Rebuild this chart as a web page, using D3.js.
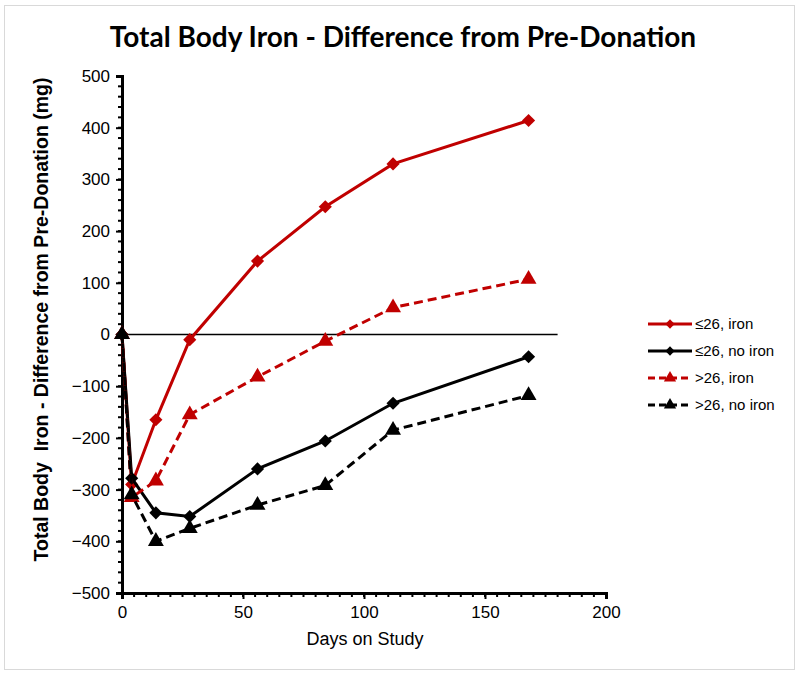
<!DOCTYPE html>
<html>
<head>
<meta charset="utf-8">
<script src="https://cdn.jsdelivr.net/npm/d3@7"></script>
<style>
  body { margin: 0; background: #fff; }
  svg { display: block; }
</style>
</head>
<body>
<div id="chart"></div>
<script>
// data
var days = [0, 4, 14, 28, 56, 84, 112, 168];
var lowIron = [0, -290, -165, -10, 142, 247, 330, 414];
var lowNoIron = [0, -278, -345, -352, -260, -206, -133, -43];
var highIron = [0, -315, -283, -155, -82, -13, 52, 107];
var highNoIron = [0, -310, -400, -375, -330, -292, -185, -118];

var seriesNames = ["\u226426, iron", "\u226426, no iron", ">26, iron", ">26, no iron"];
var xTicks = [0, 50, 100, 150, 200];
var yTicks = [500, 400, 300, 200, 100, 0, -100, -200, -300, -400, -500];

var red = "#c00000";
var series = [
    {name: seriesNames[0], values: lowIron, color: red, dash: null, marker: "diamond"},
    {name: seriesNames[1], values: lowNoIron, color: "#000", dash: null, marker: "diamond"},
    {name: seriesNames[2], values: highIron, color: red, dash: "9,5", marker: "triangle"},
    {name: seriesNames[3], values: highNoIron, color: "#000", dash: "9,5", marker: "triangle"}
];

var width = 800, height = 676;
var svg = d3.select("#chart").append("svg")
    .attr("width", width)
    .attr("height", height)
    .style("font-family", "'Liberation Sans', Arial, sans-serif");

// outer frame
svg.append("rect")
    .attr("x", 4.5).attr("y", 5.5)
    .attr("width", 790).attr("height", 664)
    .attr("fill", "#fff")
    .attr("stroke", "#d9d9d9");

var x = d3.scaleLinear().domain([0, 200]).range([122, 606]);
var y = d3.scaleLinear().domain([-500, 500]).range([593, 76]);

svg.append("text")
    .attr("x", 403).attr("y", 47)
    .attr("text-anchor", "middle")
    .style("font-family", "Lato, 'Open Sans', sans-serif")
    .style("font-weight", "bold")
    .style("font-size", "28px")
    .text("Total Body Iron - Difference from Pre-Donation");

// minor ticks
var g = svg.append("g");
g.selectAll(".ymin")
    .data(d3.range(-500, 501, 20))
    .join("line")
    .attr("x1", x(0) - 4).attr("x2", x(0))
    .attr("y1", d => y(d)).attr("y2", d => y(d))
    .attr("stroke", "#000").attr("stroke-width", 2);
g.selectAll(".xmin")
    .data(d3.range(0, 201, 5))
    .join("line")
    .attr("y1", y(-500)).attr("y2", y(-500) + 4)
    .attr("x1", d => x(d)).attr("x2", d => x(d))
    .attr("stroke", "#000").attr("stroke-width", 2);

var yAxis = svg.append("g")
    .attr("transform", `translate(${x(0)},0)`)
    .call(d3.axisLeft(y).tickValues(yTicks).tickSize(6).tickPadding(6));
var xAxis = svg.append("g")
    .attr("transform", `translate(0,${y(-500)})`)
    .call(d3.axisBottom(x).tickValues(xTicks).tickSize(6).tickPadding(7));

[yAxis, xAxis].forEach(a => {
    a.select(".domain").attr("stroke-width", 3).attr("stroke", "#000");
    a.selectAll(".tick line").attr("stroke-width", 2);
    a.selectAll("text")
        .style("font-family", "'Liberation Sans', Arial, sans-serif")
        .style("font-size", "17px")
        .attr("fill", "#000");
});

// zero line
svg.append("line")
    .attr("x1", x(0)).attr("x2", x(180))
    .attr("y1", y(0)).attr("y2", y(0))
    .attr("stroke", "#000").attr("stroke-width", 1.5);

svg.append("text")
    .attr("transform", `translate(48,${(y(500) + y(-500)) / 2 - 15}) rotate(-90)`)
    .attr("text-anchor", "middle")
    .attr("xml:space", "preserve")
    .style("white-space", "pre")
    .style("font-weight", "bold")
    .style("font-size", "19.5px")
    .text("Total Body  Iron - Difference from Pre-Donation (mg)");

svg.append("text")
    .attr("x", 365).attr("y", 645)
    .attr("text-anchor", "middle")
    .style("font-size", "18px")
    .text("Days on Study");

var line = d3.line()
    .x((d, i) => x(days[i]))
    .y(d => y(d));

var diamond = d3.symbol().type(d3.symbolDiamond2).size(110);
var triangle = d3.symbol().type(d3.symbolTriangle).size(110);

series.forEach(s => {
    svg.append("path")
        .attr("d", line(s.values))
        .attr("fill", "none")
        .attr("stroke", s.color)
        .attr("stroke-width", 3)
        .attr("stroke-dasharray", s.dash);
    svg.append("g").selectAll("path")
        .data(s.values)
        .join("path")
        .attr("transform", (d, i) => `translate(${x(days[i])},${y(d)})`)
        .attr("d", s.marker == "diamond" ? diamond : triangle)
        .attr("fill", s.color);
});

// legend
var legend = svg.append("g").attr("transform", "translate(648,324)");
var row = legend.selectAll("g")
    .data(series)
    .join("g")
    .attr("transform", (d, i) => `translate(0,${i * 27})`);
row.append("line")
    .attr("x1", 0).attr("x2", 44)
    .attr("stroke", d => d.color)
    .attr("stroke-width", 3)
    .attr("stroke-dasharray", d => d.dash ? "7,4" : null);
row.append("path")
    .attr("transform", "translate(22,0)")
    .attr("d", d => d.marker == "diamond" ? d3.symbol().type(d3.symbolDiamond2).size(55)() : d3.symbol().type(d3.symbolTriangle).size(65)())
    .attr("fill", d => d.color);
row.append("text")
    .attr("x", 47).attr("y", 5)
    .style("font-size", "15px")
    .text(d => d.name);
</script>
</body>
</html>
